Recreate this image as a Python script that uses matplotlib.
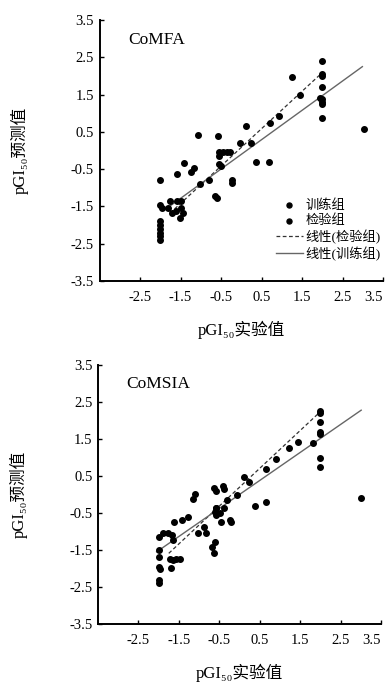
import numpy as np
import matplotlib
matplotlib.use("Agg")
import matplotlib.pyplot as plt

plt.rcParams['font.family'] = ['Liberation Serif', 'DejaVu Serif', 'Noto Sans CJK SC']

# ==============================
# DATA
# ==============================

# CoMFA - training set
mfa_train_x = [2.0, 1.25, 2.0, 1.95, 2.0, 2.0, 2.0, 2.0, 3.03, 0.12, -1.08, -0.58,
               -0.56, -0.45, -0.27, -0.55, -0.55, -0.5, 0.37, 0.68, -1.42, -1.18,
               -1.25, -1.6, -2.0, -0.24, -0.22, -0.65, -0.6, -2.0, -1.95, -1.82,
               -1.75, -1.58, -1.62, -1.45, -1.52, -2.0, -2.0, -2.0, -2.0, -2.0, -2.0]
mfa_train_y = [2.0, 1.98, 1.7, 1.42, 1.38, 1.3, 1.25, 0.88, 0.58, 0.65, 0.42, 0.38,
               -0.05, -0.05, -0.03, -0.15, -0.35, -0.42, -0.32, -0.32, -0.33, -0.48,
               -0.58, -0.63, -0.78, -0.8, -0.88, -1.22, -1.27, -1.45, -1.55, -1.55,
               -1.35, -1.35, -1.61, -1.67, -1.82, -1.9, -2.0, -2.1, -2.2, -2.3, -2.4]
# CoMFA - test set
mfa_test_x = [2.0, 2.0, 1.45, 0.92, 0.72, -0.04, 0.24, -0.35, -1.03, -0.8, -1.5, -1.7, -1.5]
mfa_test_y = [2.4, 2.05, 1.5, 0.93, 0.75, 0.2, 0.21, -0.03, -0.9, -0.8, -1.35, -1.68, -1.55]
# linear fits (end points)
mfa_fit_train_x = [-1.84, 2.99]
mfa_fit_train_y = [-1.55, 2.25]
mfa_fit_test_x = [-1.76, 2.02]
mfa_fit_test_y = [-1.68, 2.11]

# CoMSIA - training set
msia_train_x = [2.0, 2.0, 2.0, 2.0, 1.83, 2.0, 2.0, 3.0, 0.1, -0.06, -0.64, -0.57,
                -0.42, -0.39, -0.31, -0.39, -0.57, -0.61, -0.57, -0.49, -0.24, -0.2,
                -0.45, 0.38, 0.65, -1.16, -1.1, -1.27, -1.43, -1.62, -0.82, -0.88,
                -0.61, -0.68, -0.63, -1.89, -1.78, -2.0, -1.68, -1.64, -2.0, -2.0,
                -1.72, -1.64, -1.48, -1.7, -2.0, -1.97, -2.0, -2.0]
msia_train_y = [2.27, 2.21, 1.7, 1.64, 1.4, 1.0, 0.75, -0.1, 0.48, 0.0, 0.17, 0.1,
                0.23, 0.14, -0.15, -0.37, -0.37, -0.46, -0.55, -0.5, -0.69, -0.73,
                -0.73, -0.31, -0.19, -0.13, 0.01, -0.6, -0.69, -0.73, -1.05, -0.87,
                -1.27, -1.41, -1.59, -1.03, -1.03, -1.14, -1.1, -1.23, -1.5, -1.68,
                -1.73, -1.77, -1.73, -1.98, -1.95, -2.0, -2.31, -2.38]
# CoMSIA - test set
msia_test_x = [2.0, 1.45, 1.22, 0.91, 0.66, 0.24, -1.02, -0.57, -1.56]
msia_test_y = [1.97, 1.43, 1.27, 0.95, 0.68, 0.35, -1.03, -0.37, -1.73]
msia_fit_train_x = [-2.05, 3.01]
msia_fit_train_y = [-1.55, 2.28]
msia_fit_test_x = [-1.75, 2.0]
msia_fit_test_y = [-1.59, 2.24]

ticks = [-2.5, -1.5, -0.5, 0.5, 1.5, 2.5, 3.5]
yticks = [-3.5, -2.5, -1.5, -0.5, 0.5, 1.5, 2.5, 3.5]

panels = [
    ("CoMFA", mfa_train_x, mfa_train_y, mfa_test_x, mfa_test_y,
     mfa_fit_train_x, mfa_fit_train_y, mfa_fit_test_x, mfa_fit_test_y),
    ("CoMSIA", msia_train_x, msia_train_y, msia_test_x, msia_test_y,
     msia_fit_train_x, msia_fit_train_y, msia_fit_test_x, msia_fit_test_y),
]

# ==============================
# PLOT
# ==============================

fig = plt.figure(figsize=(3.9, 6.98), dpi=100)
ax_rects = [[0.2554, 0.5974, 0.7267, 0.3739],
            [0.2513, 0.1060, 0.7256, 0.3710]]

for i, (name, trx, tr_y, tex, tey, ftrx, ftry, ftex, ftey) in enumerate(panels):
    ax = fig.add_axes(ax_rects[i])
    ax.scatter(trx, tr_y, s=16, color='black', label='训练组', zorder=3)
    ax.scatter(tex, tey, s=16, color='black', label='检验组', zorder=3)
    ax.plot(ftex, ftey, color='#333333', lw=0.9, linestyle=(0, (3, 2)), label='线性(检验组)')
    ax.plot(ftrx, ftry, color='#666666', lw=1.0, label='线性(训练组)')

    ax.set_xlim(-3.5, 3.5)
    ax.set_ylim(-3.5, 3.5)
    ax.set_xticks(ticks)
    ax.set_yticks(yticks)
    ax.set_xticklabels([f"{t:.1f}" for t in ticks])
    ax.set_yticklabels([f"{t:.1f}" for t in yticks])
    ax.spines['top'].set_visible(False)
    ax.spines['right'].set_visible(False)
    ax.spines['left'].set_linewidth(1.4)
    ax.spines['bottom'].set_linewidth(1.4)
    ax.tick_params(direction='in', length=3, width=1, labelsize=10.5, pad=4)
    ax.tick_params(axis='x', pad=7)
    # last x label sits a little left of its tick, as in the original
    ax.get_xticklabels()[-1].set_horizontalalignment('right')
    ax.get_xticklabels()[-1].set_x(3.62)

    ax.text(0.10, 0.925, name, transform=ax.transAxes, fontsize=12.5, va='center', ha='left')
    ax.set_xlabel("pGI₅₀实验值", fontsize=12, labelpad=12)
    ax.set_ylabel("pGI₅₀预测值", fontsize=12, labelpad=30)

    if i == 0:
        ax.legend(loc='upper left', bbox_to_anchor=(0.595, 0.345), frameon=False,
                  fontsize=9.5, handlelength=2.0, handletextpad=0.25,
                  labelspacing=0.2, borderpad=0.1, markerscale=0.9)

plt.savefig("out.png", dpi=100)
